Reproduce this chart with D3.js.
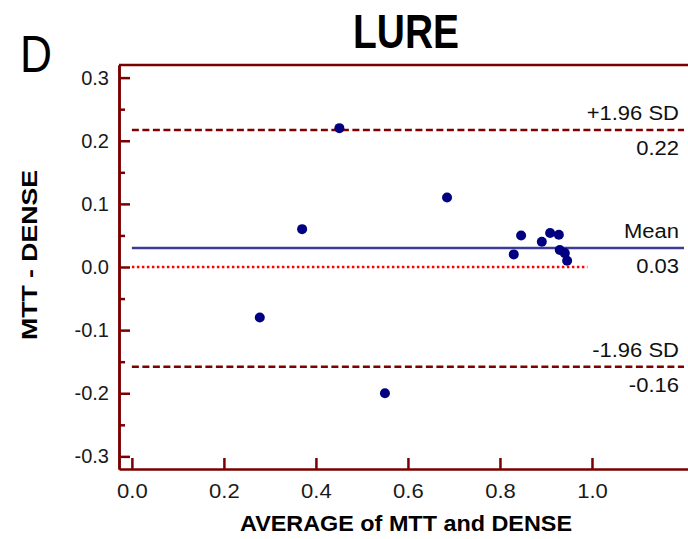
<!DOCTYPE html>
<html>
<head>
<meta charset="utf-8">
<script src="https://cdn.jsdelivr.net/npm/d3@7"></script>
<style>
  body { margin: 0; background: #fff; }
  svg text { font-family: "Liberation Sans", Arial, sans-serif; }
</style>
</head>
<body>
<div id="chart"></div>
<script>
// average of MTT and DENSE (x) and their difference (y), one entry per subject
const averages = [0.278, 0.370, 0.451, 0.685, 0.550, 0.830, 0.846, 0.891, 0.909, 0.928, 0.930, 0.941, 0.946];
const differences = [-0.080, 0.060, 0.220, 0.110, -0.200, 0.020, 0.050, 0.040, 0.054, 0.051, 0.027, 0.022, 0.010];

const yTicks = [-0.3, -0.2, -0.1, 0.0, 0.1, 0.2, 0.3];
const yMinorTicks = [-0.25, -0.15, -0.05, 0.05, 0.15, 0.25];
const xTicks = [0.0, 0.2, 0.4, 0.6, 0.8, 1.0];

// limits of agreement and mean difference
const refNames = ['+1.96 SD', 'Mean', '-1.96 SD'];
const refValues = [0.217, 0.030, -0.158];
const refLabels = ['0.22', '0.03', '-0.16'];
const zeroLineEnd = 0.99; // line of zero difference stops short of the frame

const width = 688;
const height = 539;
const axisColor = '#7a0000';

const svg = d3.select('#chart').append('svg')
    .attr('width', width)
    .attr('height', height);

const x = d3.scaleLinear().domain([-0.028, 1.25]).range([119, 707]);
const y = d3.scaleLinear().domain([-0.32, 0.32]).range([469, 65]);

const fmt = (d) => d.toFixed(1);

// the picture is a bit wider than the font, so stretch text a little
function stretch (sel, k) {
    sel.each(function () {
        const w = this.getComputedTextLength();
        d3.select(this).attr('textLength', w * k).attr('lengthAdjust', 'spacingAndGlyphs');
    });
}

// 坐标轴
const yAxisG = svg.append('g')
    .attr('transform', `translate(${x.range()[0]},0)`)
    .call(d3.axisLeft(y).tickValues(yTicks).tickSizeInner(-11).tickSizeOuter(0).tickPadding(10).tickFormat(fmt));

svg.append('g')
    .attr('transform', `translate(${x.range()[0]},0)`)
    .call(d3.axisLeft(y).tickValues(yMinorTicks).tickSizeInner(-6).tickSizeOuter(0).tickFormat(''));

const xAxisG = svg.append('g')
    .attr('transform', `translate(0,${y.range()[0]})`)
    .call(d3.axisBottom(x).tickValues(xTicks).tickSizeInner(-11).tickSizeOuter(0).tickPadding(14).tickFormat(fmt));

// top edge of the frame
svg.append('line')
    .attr('x1', x.range()[0]).attr('x2', x.range()[1])
    .attr('y1', y.range()[1]).attr('y2', y.range()[1])
    .style('stroke', axisColor)
    .style('stroke-width', 2.5);

svg.selectAll('.domain, .tick line')
    .style('stroke', axisColor)
    .style('stroke-width', 2.5);

yAxisG.selectAll('.tick text')
    .style('font-size', '20px')
    .style('fill', '#1a1a1a');
xAxisG.selectAll('.tick text')
    .style('font-size', '21px')
    .style('fill', '#1a1a1a');
stretch(xAxisG.selectAll('.tick text'), 1.05);

// zero line
svg.append('line')
    .attr('x1', x(0)).attr('x2', x(zeroLineEnd))
    .attr('y1', y(0)).attr('y2', y(0))
    .style('stroke', '#ff0000')
    .style('stroke-width', 2.5)
    .style('stroke-dasharray', '2.5,2.5');

// mean and limits of agreement
const refG = svg.selectAll('g.ref')
    .data(refValues)
    .enter()
    .append('g')
    .attr('class', 'ref');

refG.append('line')
    .attr('x1', x(0)).attr('x2', x(1.2))
    .attr('y1', (d) => y(d)).attr('y2', (d) => y(d))
    .style('stroke', (d, i) => refNames[i] === 'Mean' ? '#3b3b98' : '#800000')
    .style('stroke-width', 2.5)
    .style('stroke-dasharray', (d, i) => refNames[i] === 'Mean' ? null : '7,3.5');

refG.append('text')
    .attr('x', x(1.2) - 5)
    .attr('y', (d) => y(d) - 10)
    .attr('text-anchor', 'end')
    .style('font-size', '20px')
    .style('fill', '#111')
    .text((d, i) => refNames[i]);

refG.append('text')
    .attr('x', x(1.2) - 5)
    .attr('y', (d) => y(d) + 25)
    .attr('text-anchor', 'end')
    .style('font-size', '20px')
    .style('fill', '#111')
    .text((d, i) => refLabels[i]);

stretch(refG.selectAll('text'), 1.1);

// points
svg.selectAll('circle.pt')
    .data(averages)
    .enter()
    .append('circle')
    .attr('class', 'pt')
    .attr('r', 5)
    .attr('cx', (d) => x(d))
    .attr('cy', (d, i) => y(differences[i]))
    .style('fill', '#000080');

// titles
svg.append('text')
    .attr('x', 406).attr('y', 48)
    .attr('text-anchor', 'middle')
    .style('font-size', '48px')
    .style('font-weight', 'bold')
    .attr('textLength', 106).attr('lengthAdjust', 'spacingAndGlyphs')
    .text('LURE');

svg.append('text')
    .attr('x', 20).attr('y', 72)
    .style('font-size', '51px')
    .attr('textLength', 32).attr('lengthAdjust', 'spacingAndGlyphs')
    .text('D');

svg.append('text')
    .attr('x', 406).attr('y', 531)
    .attr('text-anchor', 'middle')
    .style('font-size', '22px')
    .style('font-weight', 'bold')
    .attr('textLength', 332).attr('lengthAdjust', 'spacingAndGlyphs')
    .text('AVERAGE of MTT and DENSE');

svg.append('text')
    .attr('transform', 'translate(37,255) rotate(-90)')
    .attr('text-anchor', 'middle')
    .style('font-size', '22px')
    .style('font-weight', 'bold')
    .attr('textLength', 170).attr('lengthAdjust', 'spacingAndGlyphs')
    .text('MTT - DENSE');
</script>
</body>
</html>
